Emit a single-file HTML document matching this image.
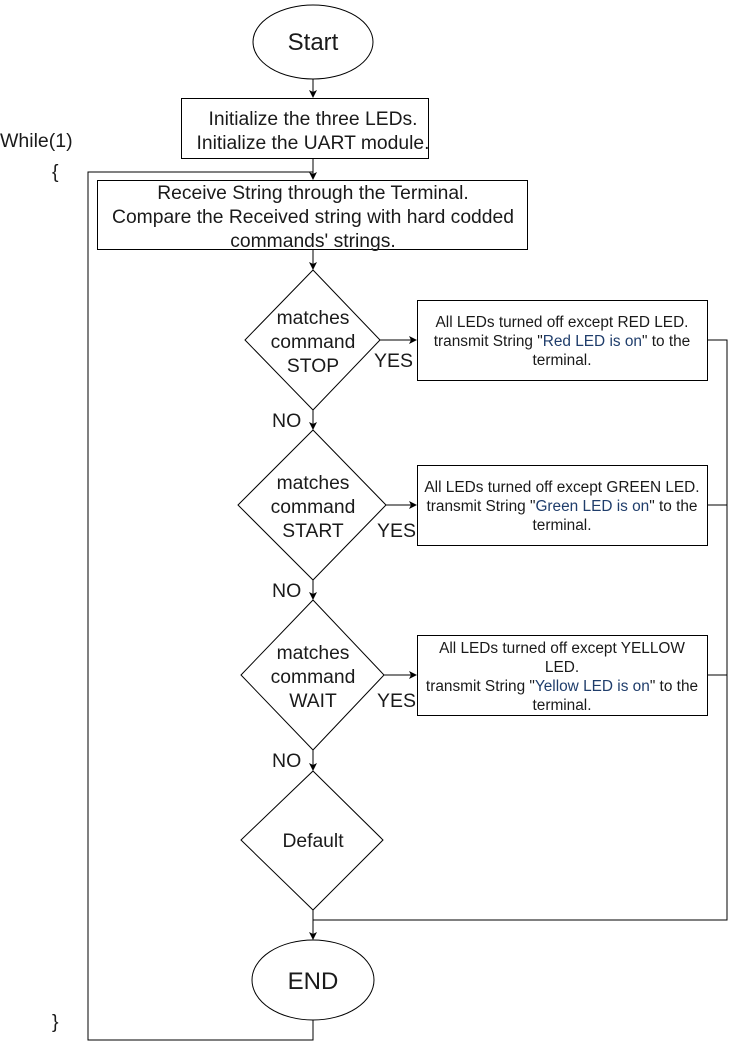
<!DOCTYPE html>
<html><head><style>
body{margin:0;background:#fff;}
svg{display:block;font-family:"Liberation Sans",Arial,sans-serif;}
</style></head><body>
<svg width="737" height="1050" viewBox="0 0 737 1050" xmlns="http://www.w3.org/2000/svg">
<defs><marker id="a" markerWidth="8" markerHeight="8" refX="7" refY="4" orient="auto" markerUnits="userSpaceOnUse"><path d="M0,0 L8,4 L0,8 L2,4 z" fill="#000"/></marker></defs>
<g fill="none" stroke="#000" stroke-width="1">
<ellipse cx="313" cy="42" rx="60" ry="37"/>
<rect x="181.5" y="98.5" width="247" height="60"/>
<rect x="97.5" y="180.5" width="430" height="69"/>
<polygon points="313,270 380,340 313,410 245,340"/>
<polygon points="313,430 386,505 313,580 238,505"/>
<polygon points="313,600 384,675 313,750 241,675"/>
<polygon points="313,771 383,840 313,910 241,840"/>
<rect x="417.5" y="300.5" width="290" height="80"/>
<rect x="417.5" y="465.5" width="290" height="80"/>
<rect x="417.5" y="635.5" width="290" height="80"/>
<ellipse cx="313" cy="980" rx="61" ry="40"/>
<line x1="313" y1="79" x2="313" y2="97" marker-end="url(#a)"/>
<line x1="313" y1="158" x2="313" y2="179" marker-end="url(#a)"/>
<polyline points="313,1020 313,1040 88,1040 88,172 313,172"/>
<line x1="313" y1="250" x2="313" y2="269" marker-end="url(#a)"/>
<line x1="313" y1="410" x2="313" y2="429" marker-end="url(#a)"/>
<line x1="313" y1="580" x2="313" y2="599" marker-end="url(#a)"/>
<line x1="313" y1="750" x2="313" y2="770" marker-end="url(#a)"/>
<line x1="313" y1="910" x2="313" y2="939" marker-end="url(#a)"/>
<line x1="380" y1="340" x2="416" y2="340" marker-end="url(#a)"/>
<line x1="386" y1="505" x2="416" y2="505" marker-end="url(#a)"/>
<line x1="384" y1="675" x2="416" y2="675" marker-end="url(#a)"/>
<polyline points="708,340 727,340 727,920 313,920"/>
<line x1="708" y1="505" x2="727" y2="505"/>
<line x1="708" y1="675" x2="727" y2="675"/>
</g>
<g fill="#1a1a1a" text-anchor="middle">
<text x="313" y="50" font-size="24">Start</text>
<g font-size="19.3">
<text x="313" y="125">Initialize the three LEDs.</text>
<text x="313" y="149">Initialize the UART module.</text>
<text x="313" y="199">Receive String through the Terminal.</text>
<text x="313" y="223">Compare the Received string with hard codded</text>
<text x="313" y="247">commands' strings.</text>
<text x="313" y="324">matches</text><text x="313" y="348">command</text><text x="313" y="372">STOP</text>
<text x="313" y="489">matches</text><text x="313" y="513">command</text><text x="313" y="537">START</text>
<text x="313" y="659">matches</text><text x="313" y="683">command</text><text x="313" y="707">WAIT</text>
<text x="313" y="847">Default</text>
</g>
<text x="313" y="989" font-size="24">END</text>
<g font-size="15.4">
<text x="562" y="327">All LEDs turned off except RED LED.</text>
<text x="562" y="346">transmit String "<tspan fill="#1f3d6b">Red LED is on</tspan>" to the</text>
<text x="562" y="365">terminal.</text>
<text x="562" y="492">All LEDs turned off except GREEN LED.</text>
<text x="562" y="511">transmit String "<tspan fill="#1f3d6b">Green LED is on</tspan>" to the</text>
<text x="562" y="530">terminal.</text>
<text x="562" y="653">All LEDs turned off except YELLOW</text>
<text x="562" y="672">LED.</text>
<text x="562" y="691">transmit String "<tspan fill="#1f3d6b">Yellow LED is on</tspan>" to the</text>
<text x="562" y="710">terminal.</text>
</g>
</g>
<g fill="#1a1a1a" font-size="19.5">
<text x="374" y="367">YES</text>
<text x="377" y="537">YES</text>
<text x="377" y="707">YES</text>
<text x="272" y="427">NO</text>
<text x="272" y="597">NO</text>
<text x="272" y="767">NO</text>
<text x="0" y="147">While(1)</text>
<text x="52" y="178">{</text>
<text x="52" y="1028">}</text>
</g>
</svg>
</body></html>
